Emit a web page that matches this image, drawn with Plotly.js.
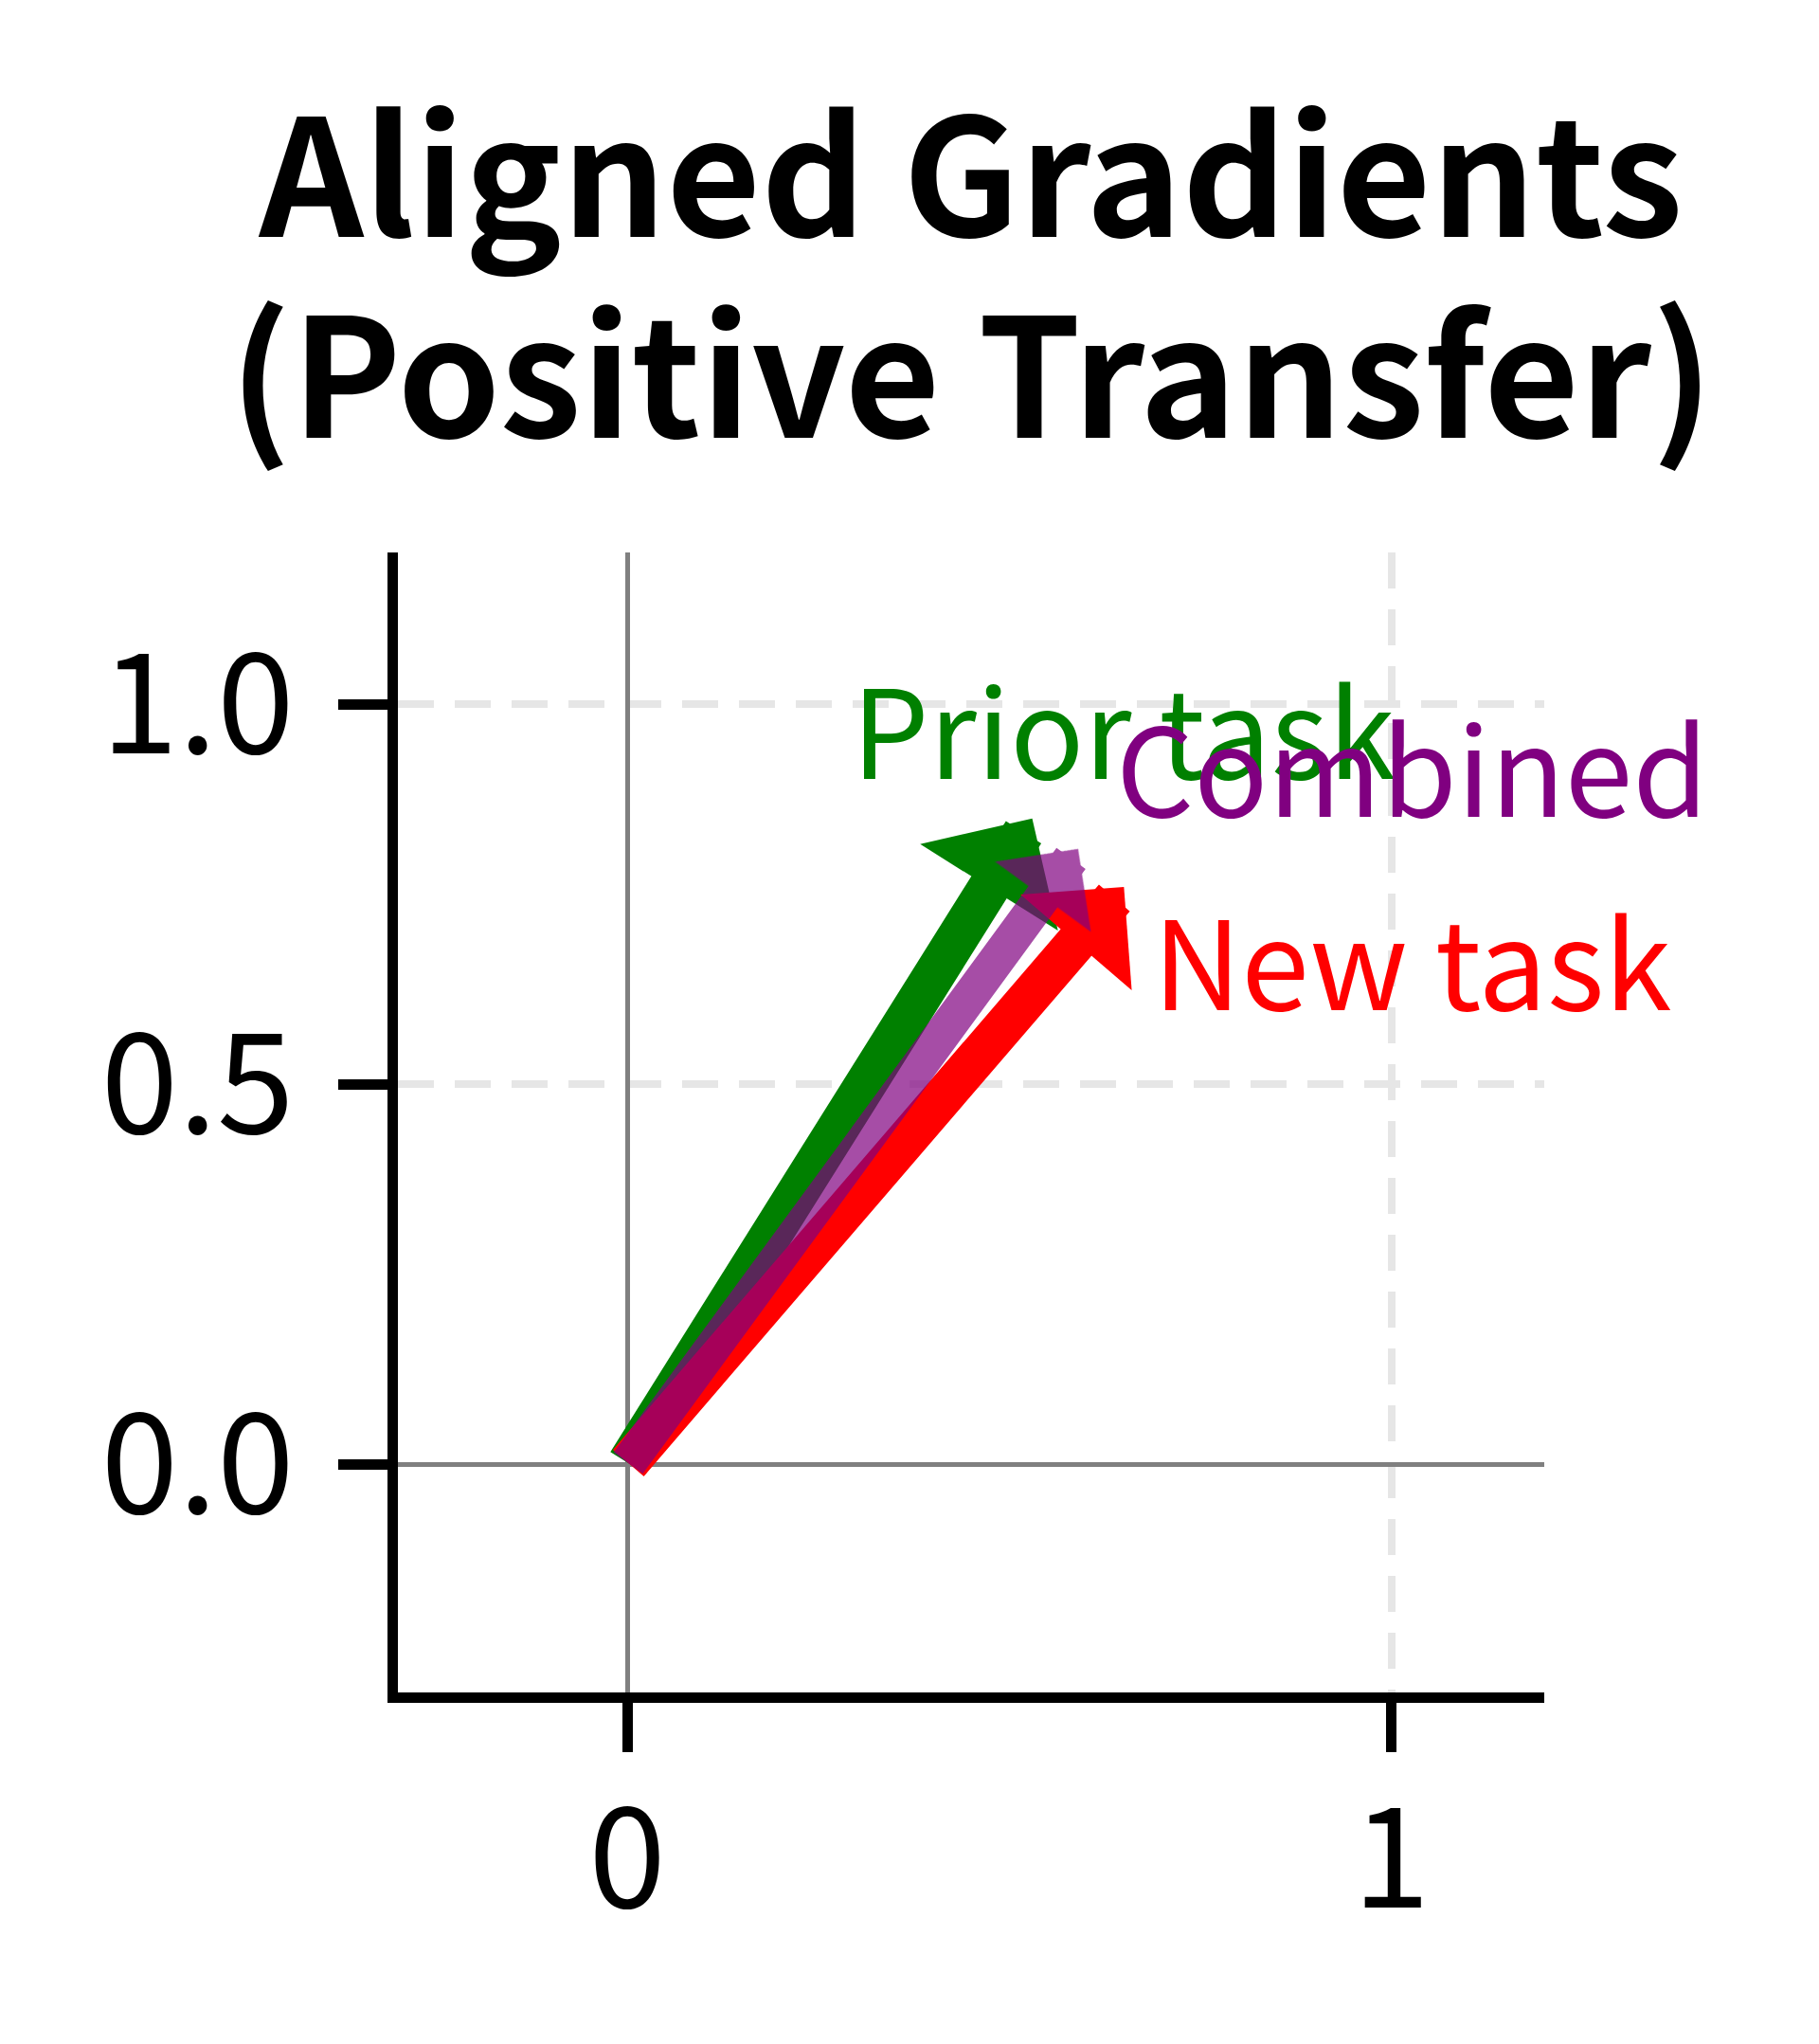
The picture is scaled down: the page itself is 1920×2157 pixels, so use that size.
<!DOCTYPE html>
<html>
<head>
<meta charset="utf-8">
<script src="https://cdn.plot.ly/plotly-3.0.1.min.js"></script>
<style>
  html, body { margin: 0; padding: 0; background: #fff; }
  #chart { width: 1920px; height: 2157px; }
</style>
</head>
<body>
<div id="chart"></div>
<script>
// gradient vectors (tip coordinates, all start at the origin)
var vecNames = ["Prior task", "New task", "Combined"];
var vecX = [0.53, 0.65, 0.59];
var vecY = [0.85, 0.76, 0.81];
var vecColors = ["#008000", "#ff0000", "rgba(128,0,128,0.7)"];
var textColors = ["#008000", "#ff0000", "#800080"];

// label positions
var labelX = [0.649, 1.027, 1.027];
var labelY = [0.972, 0.668, 0.923];

var xTicks = [0, 1];
var xTickText = ["0", "1"];
var yTicks = [0, 0.5, 1];
var yTickText = ["0.0", "0.5", "1.0"];

var FONT = "Noto Sans CJK JP, Noto Sans, sans-serif";

function plotAlignedGradients() {
  var annotations = [];

  // arrows: tail at origin, tip at vector end
  var widths = [44, 43, 38];
  var sizes = [0.65, 0.6, 0.55];
  for (var i = 0; i < vecX.length; i++) {
    annotations.push({
      x: vecX[i], y: vecY[i],
      ax: 0, ay: 0,
      xref: "x", yref: "y", axref: "x", ayref: "y",
      text: "",
      showarrow: true,
      arrowhead: 1,
      arrowsize: sizes[i],
      arrowwidth: widths[i],
      arrowcolor: vecColors[i],
      standoff: 0
    });
  }

  // text labels
  for (var j = 0; j < vecNames.length; j++) {
    annotations.push({
      x: labelX[j], y: labelY[j],
      xref: "x", yref: "y",
      text: vecNames[j],
      showarrow: false,
      xanchor: "center", yanchor: "middle",
      font: { family: FONT, size: 129, color: textColors[j] }
    });
  }

  // second title line
  annotations.push({
    x: 0.5, y: 1.164,
    xref: "paper", yref: "paper",
    text: "<b>(Positive Transfer)</b>",
    showarrow: false,
    xanchor: "center", yanchor: "middle",
    font: { family: FONT, size: 174, color: "#000" }
  });

  var data = [{
    x: [0], y: [0],
    mode: "markers",
    type: "scatter",
    marker: { size: 1, color: "rgba(0,0,0,0)" },
    hoverinfo: "skip",
    showlegend: false
  }];

  var axisCommon = {
    showline: true,
    linecolor: "#000",
    linewidth: 11,
    ticks: "outside",
    ticklen: 52,
    tickwidth: 11,
    tickcolor: "#000",
    tickfont: { family: FONT, size: 147, color: "#000" },
    showgrid: true,
    gridcolor: "#e6e6e6",
    gridwidth: 8,
    griddash: "38px,22px",
    zeroline: true,
    zerolinecolor: "#808080",
    zerolinewidth: 5,
    fixedrange: true
  };

  var layout = {
    width: 1920,
    height: 2157,
    margin: { l: 420, r: 290, t: 583, b: 371 },
    paper_bgcolor: "#fff",
    plot_bgcolor: "#fff",
    showlegend: false,
    title: {
      text: "<b>Aligned Gradients</b>",
      font: { family: FONT, size: 172, color: "#000" },
      xref: "paper",
      x: 0.5,
      xanchor: "center",
      yref: "container",
      y: 1 - 190 / 2157,
      yanchor: "middle"
    },
    xaxis: Object.assign({}, axisCommon, {
      range: [-0.3, 1.2],
      tickmode: "array",
      tickvals: xTicks,
      ticktext: xTickText,
      ticklabelstandoff: -12
    }),
    yaxis: Object.assign({}, axisCommon, {
      range: [-0.3, 1.2],
      tickmode: "array",
      tickvals: yTicks,
      ticktext: yTickText,
      ticklabelstandoff: 17
    }),
    annotations: annotations
  };

  Plotly.newPlot("chart", data, layout, { staticPlot: true });
}
plotAlignedGradients();
</script>
</body>
</html>
